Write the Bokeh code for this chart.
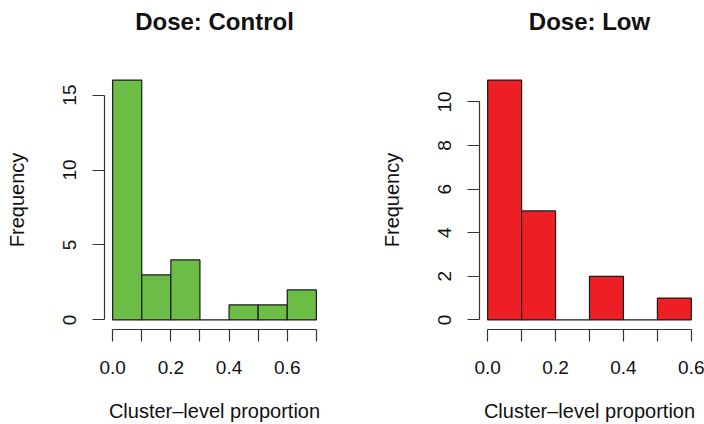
from bokeh.plotting import figure
from bokeh.layouts import row
from bokeh.models import Range1d, LinearAxis, FixedTicker, NumeralTickFormatter, Title
from bokeh.embed import file_html
from bokeh.resources import INLINE

# ---- data ----
control_edges = [0.0, 0.1, 0.2, 0.3, 0.4, 0.5, 0.6, 0.7]
control_counts = [16, 3, 4, 0, 1, 1, 2]
low_edges = [0.0, 0.1, 0.2, 0.3, 0.4, 0.5, 0.6]
low_counts = [11, 5, 0, 2, 0, 1]

control_yticks = [0, 5, 10, 15]
low_yticks = [0, 2, 4, 6, 8, 10]
xticks_labeled = [0.0, 0.2, 0.4, 0.6]

FONT = "Liberation Sans"


def make_panel(title, edges, counts, yticks, color, width, bl, br):
    xs, xe = edges[0], edges[-1]
    xpad = 0.04 * (xe - xs)
    ymax = max(counts)
    ypad = 0.04 * ymax
    H = 424
    bt = 70
    frame_h = 259
    p = figure(width=width, height=H,
               x_range=Range1d(xs - xpad, xe + xpad),
               y_range=Range1d(-ypad, ymax + ypad),
               output_backend="svg", toolbar_location=None,
               x_axis_type=None, y_axis_type=None, title=None,
               min_border_left=bl, min_border_right=br,
               min_border_top=bt, min_border_bottom=H - bt - frame_h)
    p.outline_line_color = None
    p.grid.visible = False
    p.background_fill_color = "white"
    p.border_fill_color = "white"

    p.quad(left=edges[:-1], right=edges[1:], bottom=0, top=counts,
           fill_color=color, line_color="#1a1a1a", line_width=1.2)

    minor = [e for e in edges if all(abs(e - t) > 1e-9 for t in xticks_labeled)]
    xa = LinearAxis(ticker=FixedTicker(ticks=[t for t in xticks_labeled if t <= xe + 1e-9],
                                       minor_ticks=minor),
                    formatter=NumeralTickFormatter(format="0.0"),
                    bounds=(xs, xe))
    xa.axis_label = "Cluster\u2013level proportion"
    ya = LinearAxis(ticker=FixedTicker(ticks=yticks, minor_ticks=[]),
                    bounds=(yticks[0], yticks[-1]))
    ya.axis_label = "Frequency"
    ya.major_label_orientation = "vertical"
    for ax in (xa, ya):
        ax.axis_line_color = "#333333"
        ax.axis_line_width = 1.2
        ax.major_tick_line_color = "#333333"
        ax.major_tick_line_width = 1.2
        ax.minor_tick_line_color = "#333333"
        ax.minor_tick_line_width = 1.2
        ax.major_tick_out = 12
        ax.major_tick_in = 0
        ax.minor_tick_out = 12
        ax.minor_tick_in = 0
        ax.major_label_text_font = FONT
        ax.major_label_text_font_size = "19px"
        ax.major_label_text_color = "#111111"
        ax.axis_label_text_font = FONT
        ax.axis_label_text_font_size = "20px"
        ax.axis_label_text_font_style = "normal"
        ax.axis_label_text_color = "#111111"
    xa.major_label_standoff = 19
    xa.axis_label_standoff = 23
    ya.major_label_standoff = 16
    ya.axis_label_standoff = 33
    p.add_layout(xa, "below")
    p.add_layout(ya, "left")

    # spacer between frame and title, then the title itself
    p.add_layout(Title(text=" ", text_font_size="1px", standoff=33), "above")
    p.add_layout(Title(text=title, align="center", text_font=FONT,
                       text_font_size="24px", text_font_style="bold",
                       text_color="#111111", standoff=0), "above")
    return p


p1 = make_panel("Dose: Control", control_edges, control_counts, control_yticks,
                "#6bbd45", 352, 104, 28)
p2 = make_panel("Dose: Low", low_edges, low_counts, low_yticks,
                "#ed1f24", 352, 127, 5)

layout = row(p1, p2, spacing=0)
open("out.html", "w").write(file_html(layout, INLINE))
